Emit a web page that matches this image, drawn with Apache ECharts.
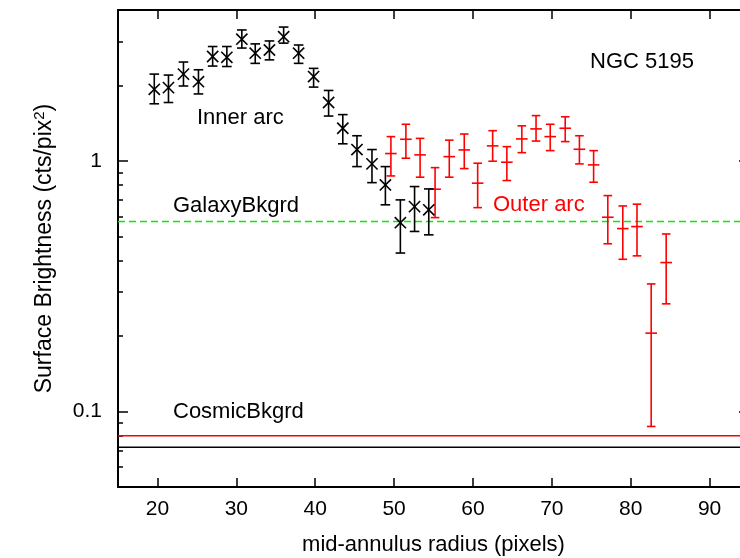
<!DOCTYPE html>
<html>
<head>
<meta charset="utf-8">
<script src="https://cdn.jsdelivr.net/npm/echarts@6/dist/echarts.min.js"></script>
<style>
html, body { margin: 0; padding: 0; background: #fff; }
#chart { width: 740px; height: 558px; }
</style>
</head>
<body>
<div id="chart"></div>
<script>
// inner arc, black crosses
const innerRadius = [19.6, 21.4, 23.3, 25.2, 27.0, 28.8, 30.7, 32.4, 34.2, 36.0, 37.9, 39.8, 41.7, 43.5, 45.3, 47.2, 48.9, 50.8, 52.6, 54.4];
const innerSB   = [1.93, 1.96, 2.22, 2.07, 2.61, 2.59, 3.06, 2.69, 2.77, 3.13, 2.69, 2.17, 1.71, 1.35, 1.11, 0.973, 0.802, 0.567, 0.657, 0.638];
const innerLow  = [1.69, 1.71, 1.99, 1.85, 2.39, 2.38, 2.82, 2.45, 2.53, 2.95, 2.45, 1.97, 1.51, 1.17, 0.949, 0.819, 0.668, 0.429, 0.523, 0.507];
const innerHigh = [2.22, 2.20, 2.48, 2.31, 2.86, 2.86, 3.33, 2.93, 3.01, 3.42, 2.90, 2.34, 1.91, 1.53, 1.26, 1.11, 0.949, 0.699, 0.790, 0.773];

// outer arc, red plus marks
const outerRadius = [49.6, 51.5, 53.3, 55.2, 57.0, 58.9, 60.6, 62.5, 64.3, 66.2, 68.0, 69.8, 71.7, 73.5, 75.3, 77.1, 79.0, 80.8, 82.6, 84.5];
const outerSB   = [1.07, 1.22, 1.057, 0.771, 1.04, 1.106, 0.815, 1.148, 0.988, 1.224, 1.342, 1.25, 1.35, 1.113, 0.964, 0.596, 0.537, 0.547, 0.2055, 0.393];
const outerLow  = [0.871, 1.025, 0.861, 0.594, 0.861, 0.932, 0.651, 0.997, 0.835, 1.079, 1.20, 1.099, 1.194, 0.973, 0.822, 0.467, 0.405, 0.418, 0.0872, 0.269];
const outerHigh = [1.25, 1.40, 1.23, 0.940, 1.21, 1.28, 0.979, 1.32, 1.14, 1.38, 1.516, 1.40, 1.50, 1.26, 1.099, 0.727, 0.661, 0.672, 0.323, 0.511];

// background levels
const galaxyBkgrd = 0.573;
const cosmicBkgrdOuter = 0.080;
const cosmicBkgrdInner = 0.072;

// axes
const xRange = [15, 95];
const yRange = [0.05, 4];
const xTicks = [20, 30, 40, 50, 60, 70, 80, 90];
const yMajor = [0.1, 1];
const yMinor = [0.06, 0.07, 0.08, 0.09, 0.2, 0.3, 0.4, 0.5, 0.6, 0.7, 0.8, 0.9, 2, 3];

const FONT = 'Liberation Sans, Arial, sans-serif';

function zip4(a, b, c, d) {
    return a.map((v, i) => [v, b[i], c[i], d[i]]);
}

function errorBars(color, mark, capHalf, markHalf) {
    return function (params, api) {
        const x = api.value(0);
        const c = api.coord([x, api.value(1)]);
        const lo = api.coord([x, api.value(2)]);
        const hi = api.coord([x, api.value(3)]);
        const style = { stroke: color, lineWidth: 1.6 };
        const seg = (x1, y1, x2, y2) => ({ type: 'line', shape: { x1, y1, x2, y2 }, style });
        const parts = [
            seg(c[0], lo[1], c[0], hi[1]),
            seg(c[0] - capHalf, lo[1], c[0] + capHalf, lo[1]),
            seg(c[0] - capHalf, hi[1], c[0] + capHalf, hi[1])
        ];
        if (mark === 'cross') {
            parts.push(seg(c[0] - markHalf, c[1] - markHalf, c[0] + markHalf, c[1] + markHalf));
            parts.push(seg(c[0] - markHalf, c[1] + markHalf, c[0] + markHalf, c[1] - markHalf));
        } else {
            parts.push(seg(c[0] - markHalf, c[1], c[0] + markHalf, c[1]));
        }
        return { type: 'group', children: parts };
    };
}

function level(value, color, type) {
    return {
        type: 'line',
        data: [[xRange[0], value], [xRange[1], value]],
        symbol: 'none',
        silent: true,
        lineStyle: { color: color, width: 1.5, type: type },
        z: 1
    };
}

function label(text, left, top, color) {
    return { type: 'text', left: left, top: top, style: { text: text, font: '22px ' + FONT, fill: color } };
}

const axisLine = { show: true, lineStyle: { color: '#000', width: 2 } };

const chart = echarts.init(document.getElementById('chart'));

chart.setOption({
    animation: false,
    // the right edge of the frame sits just past the canvas, as in the source
    grid: { left: 118, top: 10, width: 631, height: 477, outerBoundsMode: 'none', containLabel: false },
    xAxis: [
        {
            type: 'value', min: xRange[0], max: xRange[1], position: 'bottom',
            axisLine: axisLine,
            axisTick: { inside: true, length: 9, customValues: xTicks, lineStyle: { color: '#000', width: 1.5 } },
            axisLabel: { customValues: xTicks, color: '#000', fontSize: 21, fontFamily: FONT, margin: 12 },
            splitLine: { show: false },
            name: 'mid-annulus radius (pixels)', nameLocation: 'middle', nameGap: 47,
            nameTextStyle: { color: '#000', fontSize: 22, fontFamily: FONT }
        },
        {
            type: 'value', min: xRange[0], max: xRange[1], position: 'top',
            axisLine: axisLine,
            axisTick: { inside: true, length: 9, customValues: xTicks, lineStyle: { color: '#000', width: 1.5 } },
            axisLabel: { show: false },
            splitLine: { show: false }
        }
    ],
    yAxis: [
        {
            type: 'log', logBase: 10, min: yRange[0], max: yRange[1], position: 'left',
            axisLine: axisLine,
            axisTick: { inside: true, length: 10, customValues: yMajor, lineStyle: { color: '#000', width: 1.5 } },
            axisLabel: { customValues: yMajor, color: '#000', fontSize: 21, fontFamily: FONT, margin: 16 },
            splitLine: { show: false },
            name: 'Surface Brightness (cts/pix{sup|2})', nameLocation: 'middle', nameGap: 60, nameRotate: 90,
            nameTextStyle: {
                color: '#000', fontSize: 23, fontFamily: FONT,
                rich: { sup: { fontSize: 15, fontFamily: FONT, color: '#000', padding: [0, 0, 11, 0] } }
            }
        },
        {
            type: 'log', logBase: 10, min: yRange[0], max: yRange[1], position: 'left',
            axisLine: { show: false },
            axisTick: { inside: true, length: 5, customValues: yMinor, lineStyle: { color: '#000', width: 1.5 } },
            axisLabel: { show: false },
            splitLine: { show: false }
        },
        {
            type: 'log', logBase: 10, min: yRange[0], max: yRange[1], position: 'right',
            axisLine: axisLine,
            axisTick: { inside: true, length: 10, customValues: yMajor, lineStyle: { color: '#000', width: 1.5 } },
            axisLabel: { show: false },
            splitLine: { show: false }
        }
    ],
    graphic: [
        label('NGC 5195', 590, 51, '#000'),
        label('Inner arc', 197, 107, '#000'),
        label('GalaxyBkgrd', 173, 195, '#000'),
        label('Outer arc', 493, 194, '#ff0000'),
        label('CosmicBkgrd', 173, 401, '#000')
    ],
    series: [
        level(galaxyBkgrd, '#00ee00', [7, 4]),
        level(cosmicBkgrdOuter, '#ff0000', 'solid'),
        level(cosmicBkgrdInner, '#000000', 'solid'),
        {
            type: 'custom', name: 'Outer arc',
            renderItem: errorBars('#ff0000', 'plus', 4.3, 5.8),
            encode: { x: 0, y: [1, 2, 3] },
            data: zip4(outerRadius, outerSB, outerLow, outerHigh),
            z: 3
        },
        {
            type: 'custom', name: 'Inner arc',
            renderItem: errorBars('#000000', 'cross', 4.8, 5.6),
            encode: { x: 0, y: [1, 2, 3] },
            data: zip4(innerRadius, innerSB, innerLow, innerHigh),
            z: 4
        }
    ]
});
</script>
</body>
</html>
